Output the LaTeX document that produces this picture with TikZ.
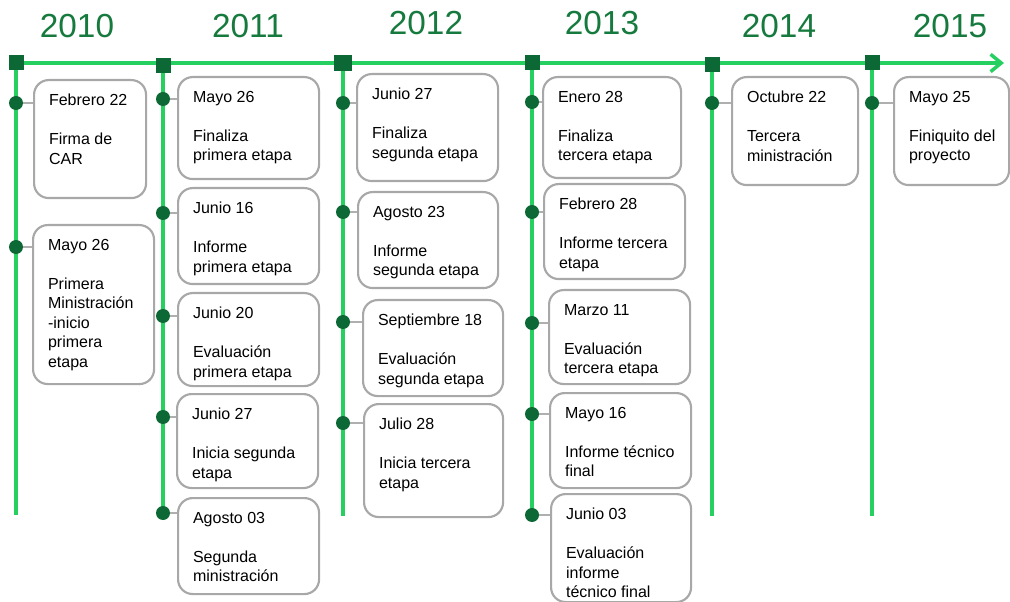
\documentclass[tikz,border=0pt]{standalone}
\usepackage{fontspec}
\setmainfont{Liberation Sans}
\usetikzlibrary{arrows.meta}

\definecolor{linegreen}{RGB}{38,208,96}
\definecolor{darkgreen}{RGB}{12,104,52}
\definecolor{yeargreen}{RGB}{22,122,62}
\definecolor{boxgray}{RGB}{168,168,168}
\definecolor{linkgray}{RGB}{175,175,175}

\newdimen\pxu
\pxu=0.75pt

% one event: name, line x, dot y, box x, box y, box width, box height, text
\newcommand\tlevent[8]{%
  \node[evbox, anchor=north west] (#1) at (#4,#5)
    {\parbox[t][\dimexpr #7\pxu-28\pxu\relax][t]{#6\pxu}{\raggedright\leftskip=15\pxu #8}};
  \node[evdot] (#1d) at (#2,#3) {};
  \draw[evlink] (#1d.east) -- (#1d -| #1.west);
}
\newcommand\gap{\\[14.6pt]}

\begin{document}
\begin{tikzpicture}[x=0.75pt, y=-0.75pt,
  axis/.style={draw=linegreen, line width=3pt},
  vline/.style={draw=linegreen, line width=3pt},
  yearsq/.style={rectangle, fill=darkgreen, minimum size=15\pxu, inner sep=0pt},
  evdot/.style={circle, fill=darkgreen, minimum size=14\pxu, inner sep=0pt},
  evlink/.style={draw=linkgray, line width=1.1pt},
  evbox/.style={draw=boxgray, line width=1.6pt, rounded corners=11pt, fill=white,
    inner xsep=0pt, inner ysep=14\pxu, font=\fontsize{12}{14.6}\selectfont},
  year/.style={text=yeargreen, font=\fontsize{25}{30}\selectfont, inner sep=0pt}]
\useasboundingbox (0,0) rectangle (1010,602);

% year labels
\node[year] (y10) at (77,26) {2010};
\node[year] (y11) at (248,26) {2011};
\node[year] (y12) at (426,23) {2012};
\node[year] (y13) at (602,23) {2013};
\node[year] (y14) at (779,26) {2014};
\node[year] (y15) at (950,26) {2015};

% main axis
\coordinate (axs) at (10,63);
\coordinate (axe) at (1004,63);
\draw[axis, -{Straight Barb[length=8pt, width=13pt, line width=2.6pt]}] (axs) -- (axe);

% year stems
\coordinate (t10) at (16,63);  \coordinate (e10) at (16,515);
\coordinate (t11) at (163,66); \coordinate (e11) at (163,513);
\coordinate (t12) at (343,63); \coordinate (e12) at (343,516);
\coordinate (t13) at (532,63); \coordinate (e13) at (532,515);
\coordinate (t14) at (712,65); \coordinate (e14) at (712,516);
\coordinate (t15) at (872,63); \coordinate (e15) at (872,516);
\foreach \k in {10,11,12,13,14,15} \draw[vline] (t\k) -- (e\k);

\node[yearsq] (s10) at (t10) {};
\node[yearsq] (s11) at (t11) {};
\node[yearsq, minimum width=18\pxu, minimum height=16\pxu] (s12) at (t12) {};
\node[yearsq] (s13) at (t13) {};
\node[yearsq] (s14) at (t14) {};
\node[yearsq] (s15) at (t15) {};

% 2010
\tlevent{a1}{16}{103}{33}{79}{112}{118}{Febrero 22\gap Firma de\\CAR}
\tlevent{a2}{16}{247}{32}{224}{121}{159}{Mayo 26\gap Primera\\Ministración\\-inicio\\primera\\etapa}

% 2011
\tlevent{b1}{163}{99}{177}{76}{141}{102}{Mayo 26\gap Finaliza\\primera etapa}
\tlevent{b2}{163}{213}{177}{187}{141}{96}{Junio 16\gap Informe\\primera etapa}
\tlevent{b3}{163}{316}{177}{292}{141}{93}{Junio 20\gap Evaluación\\primera etapa}
\tlevent{b4}{163}{417}{176}{393}{141}{94}{Junio 27\gap Inicia segunda\\etapa}
\tlevent{b5}{163}{513}{177}{497}{141}{96}{Agosto 03\gap Segunda\\ministración}

% 2012
\tlevent{c1}{343}{103}{356}{73}{141}{107}{Junio 27\gap Finaliza\\segunda etapa}
\tlevent{c2}{343}{212}{357}{191}{140}{96}{Agosto 23\gap Informe\\segunda etapa}
\tlevent{c3}{343}{322}{362}{299}{140}{96}{Septiembre 18\gap Evaluación\\segunda etapa}
\tlevent{c4}{343}{423}{363}{403}{139}{113}{Julio 28\gap Inicia tercera\\etapa}

% 2013
\tlevent{d1}{532}{102}{542}{76}{138}{101}{Enero 28\gap Finaliza\\tercera etapa}
\tlevent{d2}{532}{212}{543}{183}{141}{95}{Febrero 28\gap Informe tercera\\etapa}
\tlevent{d3}{532}{323}{548}{289}{141}{94}{Marzo 11\gap Evaluación\\tercera etapa}
\tlevent{d4}{532}{414}{549}{392}{141}{95}{Mayo 16\gap Informe técnico\\final}
\tlevent{d5}{532}{515}{550}{493}{140}{108}{Junio 03\gap Evaluación\\informe\\técnico final}

% 2014
\tlevent{e1}{712}{103}{731}{76}{126}{108}{Octubre 22\gap Tercera\\ministración}

% 2015
\tlevent{f1}{872}{103}{893}{76}{115}{108}{Mayo 25\gap Finiquito del\\proyecto}
\end{tikzpicture}
\end{document}
